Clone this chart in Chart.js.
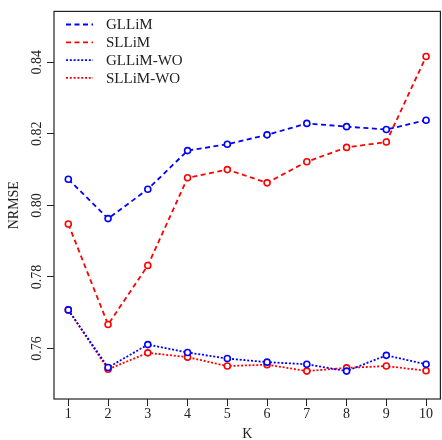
<!DOCTYPE html>
<html>
<head>
<meta charset="utf-8">
<script src="https://cdn.jsdelivr.net/npm/chart.js@4/dist/chart.umd.min.js"></script>
<style>
  html, body { margin: 0; padding: 0; background: #fff; overflow: hidden; }
  #wrap { width: 446px; height: 440px; }
</style>
</head>
<body>
<div id="wrap"><canvas id="c" width="446" height="440"></canvas></div>
<script>
// values
const kValues = [1, 2, 3, 4, 5, 6, 7, 8, 9, 10];
const gllim   = [0.8073, 0.7963, 0.8045, 0.8153, 0.8171, 0.8197, 0.8229, 0.8220, 0.8212, 0.8238];
const sllim   = [0.7948, 0.7667, 0.7832, 0.8077, 0.8100, 0.8063, 0.8122, 0.8162, 0.8177, 0.8416];
const gllimWo = [0.7708, 0.7547, 0.7611, 0.7589, 0.7572, 0.7562, 0.7556, 0.7537, 0.7581, 0.7556];
const sllimWo = [0.7708, 0.7542, 0.7588, 0.7576, 0.7551, 0.7555, 0.7537, 0.7546, 0.7551, 0.7538];
const yTicks  = [0.76, 0.78, 0.80, 0.82, 0.84];
const yTickLabels = ['0.76', '0.78', '0.80', '0.82', '0.84'];

const SERIF = '"Liberation Serif", "DejaVu Serif", serif';

function series(label, vals, color, dash) {
    return {
        label: label,
        data: kValues.map((k, i) => ({ x: k, y: vals[i] })),
        borderColor: color,
        borderWidth: 1.8,
        borderDash: dash,
        pointRadius: 3,
        pointBorderWidth: 1.6,
        pointBorderColor: color,
        pointBackgroundColor: '#fff',
        fill: false,
        tension: 0
    };
}

const DASHED = [5, 3.5];
const DOTTED = [2, 1.8];

// frame, rotated y labels and the in-plot legend
const extras = {
    id: 'extras',
    afterDraw(chart) {
        const ctx = chart.ctx;
        const a = chart.chartArea;
        ctx.save();
        ctx.strokeStyle = '#222';
        ctx.lineWidth = 1.2;
        ctx.setLineDash([]);
        ctx.strokeRect(a.left, a.top, a.right - a.left, a.bottom - a.top);

        const ys = chart.scales.y;
        ctx.fillStyle = '#222';
        ctx.font = '14px ' + SERIF;
        ctx.textAlign = 'center';
        ctx.textBaseline = 'middle';
        yTicks.forEach((v, i) => {
            const py = ys.getPixelForValue(v);
            ctx.save();
            ctx.translate(37, py);
            ctx.rotate(-Math.PI / 2);
            ctx.fillText(yTickLabels[i], 0, 0);
            ctx.restore();
        });

        ctx.font = '15px ' + SERIF;
        ctx.textAlign = 'left';
        chart.data.datasets.forEach((ds, i) => {
            const y = 24.5 + i * 17.8;
            ctx.strokeStyle = ds.borderColor;
            ctx.lineWidth = ds.borderWidth;
            ctx.setLineDash(ds.borderDash);
            ctx.beginPath();
            ctx.moveTo(66, y);
            ctx.lineTo(93, y);
            ctx.stroke();
            ctx.fillStyle = '#222';
            ctx.fillText(ds.label, 106, y + 1);
        });
        ctx.restore();
    }
};

new Chart(document.getElementById('c'), {
    type: 'line',
    data: {
        datasets: [
            series('GLLiM', gllim, '#0000ff', DASHED),
            series('SLLiM', sllim, '#ff0000', DASHED),
            series('GLLiM-WO', gllimWo, '#0000ff', DOTTED),
            series('SLLiM-WO', sllimWo, '#ff0000', DOTTED)
        ]
    },
    options: {
        responsive: false,
        animation: false,
        layout: { padding: { top: 7.5, right: 1, left: 0, bottom: 0 } },
        plugins: { legend: { display: false }, tooltip: { enabled: false } },
        scales: {
            x: {
                type: 'linear',
                min: 0.64,
                max: 10.36,
                afterBuildTicks: s => { s.ticks = kValues.map(v => ({ value: v })); },
                afterFit: s => { s.height = 41; },
                border: { display: false },
                grid: { drawOnChartArea: false, drawTicks: true, tickLength: 7, color: '#222', lineWidth: 1 },
                ticks: { color: '#222', font: { family: SERIF, size: 14 }, padding: 0, maxRotation: 0, autoSkip: false },
                title: { display: true, text: 'K', color: '#222', font: { family: SERIF, size: 14 }, padding: { top: 0, bottom: -3 } }
            },
            y: {
                min: 0.7459,
                max: 0.8542,
                afterBuildTicks: s => { s.ticks = yTicks.map(v => ({ value: v })); },
                afterFit: s => { s.width = 54; },
                border: { display: false },
                grid: { drawOnChartArea: false, drawTicks: true, tickLength: 7, color: '#222', lineWidth: 1 },
                ticks: { color: 'transparent', font: { family: SERIF, size: 14 } },
                title: { display: true, text: 'NRMSE', color: '#222', font: { family: SERIF, size: 14 }, padding: { top: 6, bottom: 0 } }
            }
        }
    },
    plugins: [extras]
});
</script>
</body>
</html>
